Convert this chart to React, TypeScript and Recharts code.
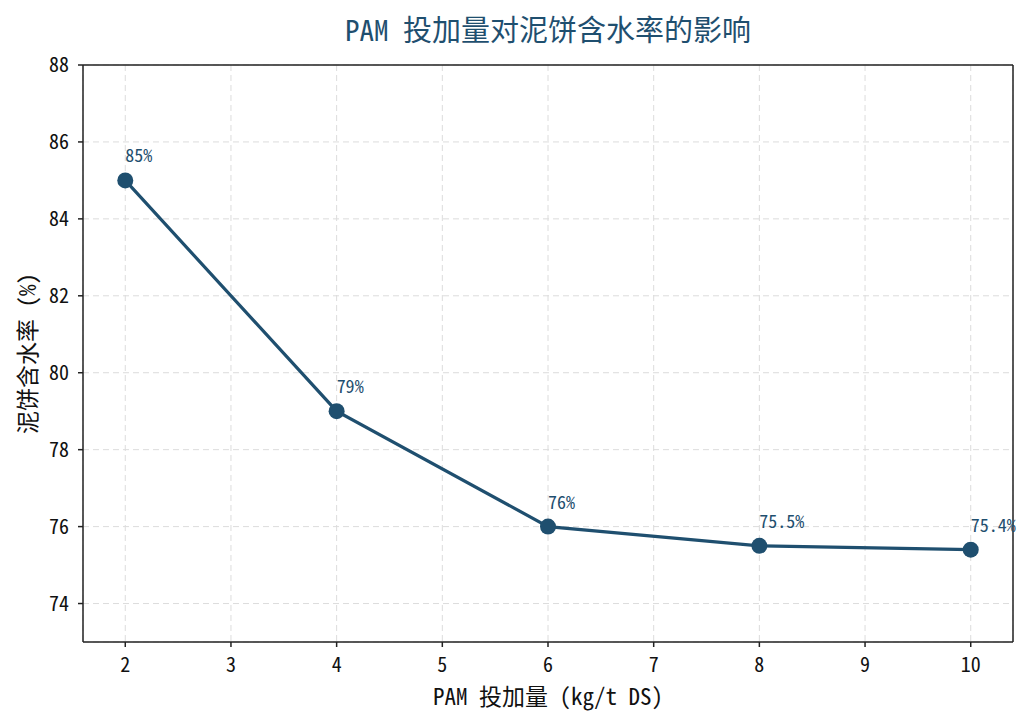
import {
  LineChart,
  Line,
  XAxis,
  YAxis,
  CartesianGrid,
  ReferenceLine,
  LabelList,
} from "recharts";

const doses = [2, 4, 6, 8, 10];
const moisture = [85, 79, 76, 75.5, 75.4];
const xTicks = [2, 3, 4, 5, 6, 7, 8, 9, 10];
const yTicks = [74, 76, 78, 80, 82, 84, 86, 88];

const data = doses.map((d, i) => ({ dose: d, moisture: moisture[i] }));

const FONT = "'Noto Sans Mono CJK SC', 'Noto Sans CJK SC', 'DejaVu Sans Mono', monospace";
const BLUE = "#1f4f6f";
const AXIS = "#222";

function PointLabel(props: any) {
  const { x, y, value } = props;
  return (
    <text x={x} y={y - 18} fill={BLUE} fontSize={18} fontFamily={FONT} textAnchor="start">
      {value}%
    </text>
  );
}

export default function App() {
  return (
    <div style={{ position: "absolute", left: 0, top: 0, background: "#fff" }}>
      <LineChart
        width={1035}
        height={724}
        data={data}
        margin={{ top: 65, right: 22, bottom: 0, left: 0 }}
      >
        <text
          x={548}
          y={41}
          textAnchor="middle"
          fill={BLUE}
          fontSize={29}
          fontFamily={FONT}
          fontWeight={500}
        >
          PAM 投加量对泥饼含水率的影响
        </text>
        <CartesianGrid stroke="#dcdcdc" strokeDasharray="6 4" />
        <XAxis
          dataKey="dose"
          type="number"
          domain={[1.6, 10.4]}
          ticks={xTicks}
          stroke={AXIS}
          strokeWidth={1.5}
          tickSize={5}
          tick={{ fill: "#111", fontSize: 20, fontFamily: FONT }}
          tickMargin={11}
          label={{
            value: "PAM 投加量 (kg/t DS)",
            position: "insideBottom",
            offset: 19,
            style: { fill: "#111", fontSize: 23, fontFamily: FONT },
          }}
          height={82}
        />
        <YAxis
          type="number"
          domain={[73, 88]}
          ticks={yTicks}
          stroke={AXIS}
          strokeWidth={1.5}
          tickSize={5}
          tick={{ fill: "#111", fontSize: 20, fontFamily: FONT }}
          tickMargin={9}
          width={83}
          label={{
            value: "泥饼含水率 (%)",
            angle: -90,
            position: "insideLeft",
            offset: 28,
            style: { fill: "#111", fontSize: 23, fontFamily: FONT, textAnchor: "middle" },
          }}
        />
        <ReferenceLine y={88} stroke={AXIS} strokeWidth={1.5} />
        <ReferenceLine x={10.4} stroke={AXIS} strokeWidth={1.5} />
        <Line
          type="linear"
          dataKey="moisture"
          stroke={BLUE}
          strokeWidth={3.2}
          dot={{ r: 8, fill: BLUE, stroke: BLUE, strokeWidth: 0 }}
          isAnimationActive={false}
        >
          <LabelList dataKey="moisture" content={<PointLabel />} />
        </Line>
      </LineChart>
    </div>
  );
}
